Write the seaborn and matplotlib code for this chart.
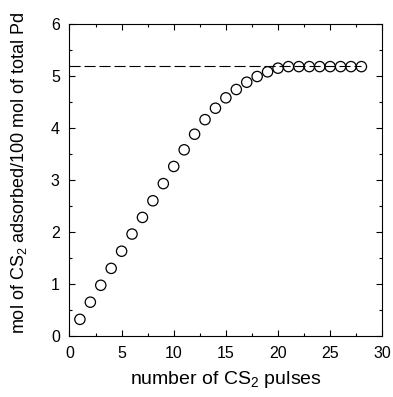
import matplotlib
matplotlib.use("Agg")
import matplotlib.pyplot as plt
from matplotlib.ticker import MultipleLocator
import seaborn as sns
import pandas as pd

pulses = list(range(1, 29))
adsorbed = [0.32, 0.65, 0.975, 1.30, 1.63, 1.96, 2.28, 2.60, 2.93, 3.26,
            3.58, 3.88, 4.16, 4.38, 4.58, 4.74, 4.88, 4.99, 5.08, 5.15,
            5.18, 5.18, 5.18, 5.18, 5.18, 5.18, 5.18, 5.18]
saturation = 5.19
xticks = [0, 5, 10, 15, 20, 25, 30]
yticks = [0, 1, 2, 3, 4, 5, 6]

sns.set_style("ticks", {"text.color": "black", "axes.labelcolor": "black",
                        "xtick.color": "black", "ytick.color": "black",
                        "axes.edgecolor": "black"})
plt.rcParams['font.family'] = ['Liberation Sans', 'DejaVu Sans']
plt.rcParams['mathtext.fontset'] = 'custom'
plt.rcParams['mathtext.rm'] = 'Liberation Sans'
plt.rcParams['mathtext.it'] = 'Liberation Sans:italic'

df = pd.DataFrame({"pulses": pulses, "adsorbed": adsorbed})

fig = plt.figure(figsize=(3.93, 3.97), dpi=100)
ax = fig.add_axes([0.1768, 0.1537, 0.7959, 0.7859])

ax.plot([0, 28], [saturation, saturation], color="black", lw=0.8,
        dashes=(10, 3.5), zorder=1)
sns.scatterplot(data=df, x="pulses", y="adsorbed", ax=ax, marker="o",
                s=55, facecolor="none", edgecolor="black", linewidth=0.9,
                zorder=2)

ax.set_xlim(0, 30)
ax.set_ylim(0, 6)
ax.set_xticks(xticks)
ax.set_yticks(yticks)
ax.xaxis.set_minor_locator(MultipleLocator(2.5))
ax.yaxis.set_minor_locator(MultipleLocator(0.5))
ax.tick_params(which="both", direction="in", top=True, right=True,
               width=0.8, labelsize=11.5, colors="black")
ax.tick_params(axis="x", which="both", pad=7)
ax.tick_params(axis="y", which="both", pad=7)
ax.tick_params(which="major", length=4)
ax.tick_params(which="minor", length=2.5)
for s in ax.spines.values():
    s.set_linewidth(0.8)
    s.set_color("black")

ax.set_xlabel(r"number of CS$_\mathregular{2}$ pulses", fontsize=14,
              labelpad=6, color="black")
ax.set_ylabel(r"mol of CS$_\mathregular{2}$ adsorbed/100 mol of total Pd",
              fontsize=13, color="black")
ax.yaxis.set_label_coords(-0.13, 0.525)

fig.savefig("out.png", dpi=100)
